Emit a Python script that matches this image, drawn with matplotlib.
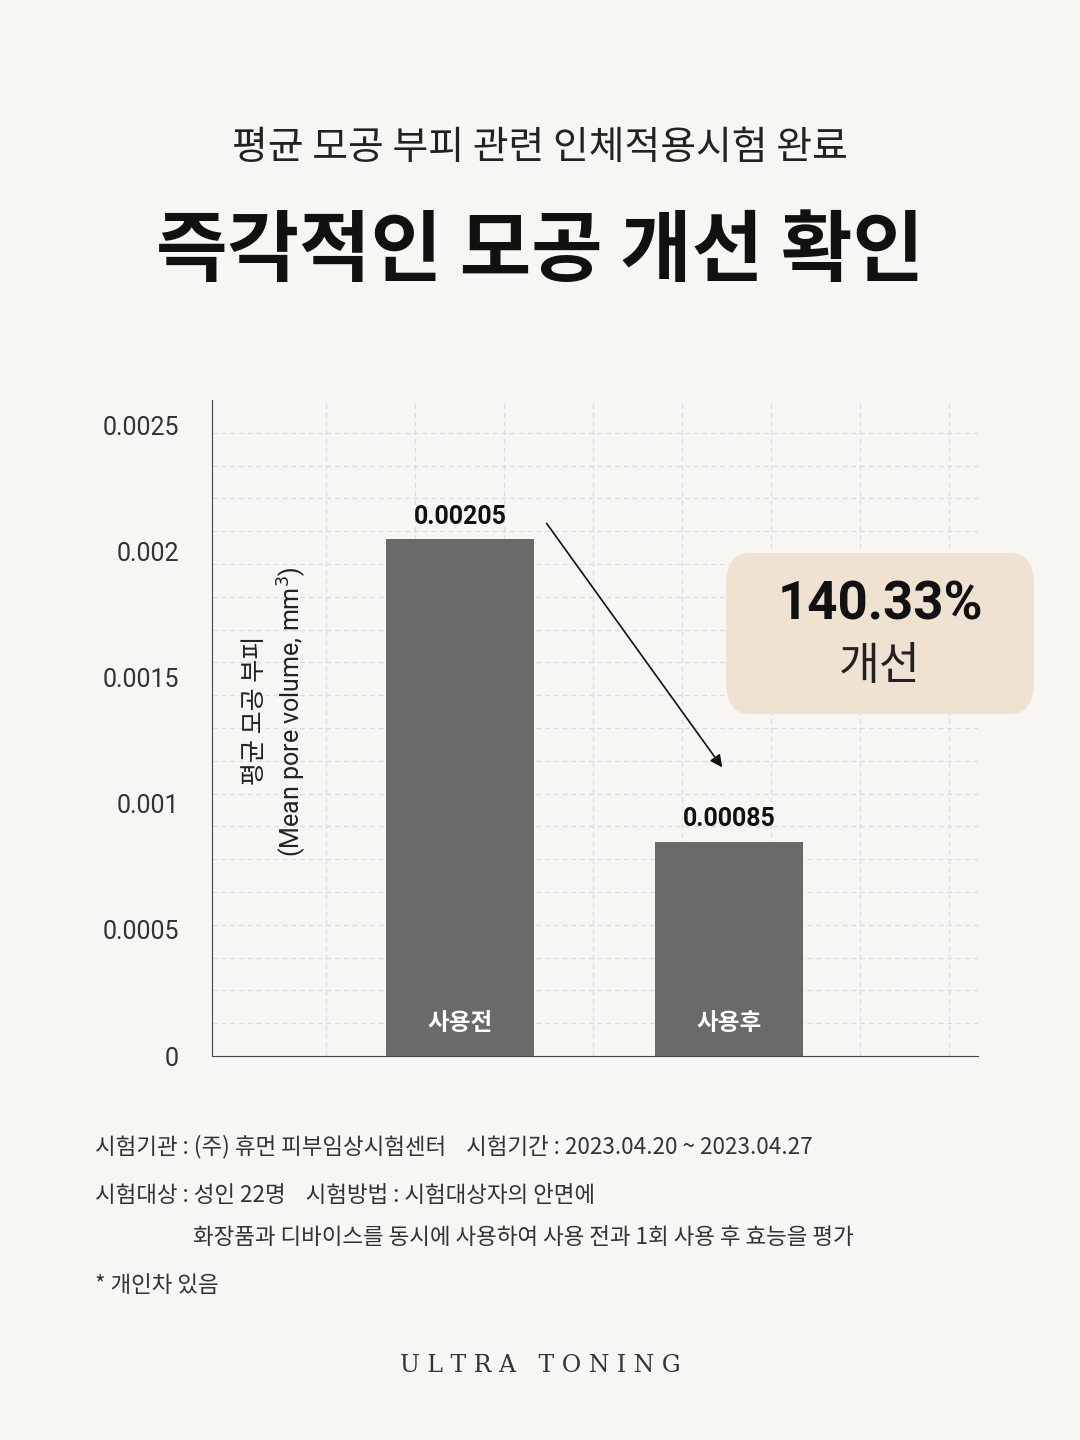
import numpy as np
import matplotlib
matplotlib.use("Agg")
import matplotlib.pyplot as plt
from matplotlib.patches import FancyBboxPatch

plt.rcParams['font.family'] = ['Noto Sans CJK KR', 'DejaVu Sans']

categories = ["사용전", "사용후"]
values = [0.00205, 0.00085]
value_labels = ["0.00205", "0.00085"]
yticks = [0, 0.0005, 0.001, 0.0015, 0.002, 0.0025]
ytick_labels = ["0", "0.0005", "0.001", "0.0015", "0.002", "0.0025"]

BG = "#f7f6f3"
BAR = "#6a6a6a"

fig = plt.figure(figsize=(10.8, 14.4), dpi=100, facecolor=BG)

fig.text(0.5, 1 - 148 / 1440, "평균 모공 부피 관련 인체적용시험 완료", ha="center", va="center",
         fontsize=28, color="#222222")
fig.text(0.5, 1 - 252 / 1440, "즉각적인 모공 개선 확인", ha="center", va="center",
         fontsize=56, fontweight="bold", color="#111111")

ax = fig.add_axes([212 / 1080, 1 - 1056 / 1440, 766 / 1080, 656 / 1440])
ax.set_facecolor(BG)
x = np.arange(1, len(values) + 1)
ax.bar(x, values, width=0.55, color=BAR, zorder=3)
ax.set_xlim(0.078, 2.926)
ax.set_ylim(0, 0.0026)

ax.set_yticks(yticks)
ax.set_yticklabels(ytick_labels, fontsize=18, color="#333333", family="Roboto")
ax.tick_params(axis="y", length=0, pad=24)
ax.set_xticks([])
ax.set_yticks(np.arange(0, 0.0026, 0.00013), minor=True)
ax.set_xticks(np.arange(0.502, 2.93, 0.331), minor=True)
ax.tick_params(which="minor", length=0)
ax.grid(which="minor", color="#dcdcdc", linestyle=(0, (4, 3)), linewidth=0.9, zorder=0)

for side in ["top", "right"]:
    ax.spines[side].set_visible(False)
ax.spines["left"].set_color("#444444")
ax.spines["bottom"].set_color("#444444")

for xi, v, lab, cat in zip(x, values, value_labels, categories):
    ax.text(xi, v + 0.00004, lab, ha="center", va="bottom", fontsize=18,
            fontweight="bold", color="#111111", family="Roboto", zorder=4)
    ax.text(xi, 0.00013, cat, ha="center", va="center", fontsize=17,
            fontweight="bold", color="white", zorder=4)

ax.annotate("", xy=(1.981, 0.001135), xytext=(1.316, 0.00212),
            arrowprops=dict(arrowstyle="-|>", color="#111111", lw=1.2, mutation_scale=18), zorder=5)

fig.text(255 / 1080, 1 - 710 / 1440, "평균 모공 부피", rotation=90, ha="center", va="center",
         fontsize=18, color="#222222")
fig.text(292 / 1080, 1 - 712 / 1440, "(Mean pore volume, mm$^3$)", rotation=90, ha="center", va="center",
         fontsize=18, color="#222222", family="Roboto")

box = FancyBboxPatch((726 / 1080, 1 - 714 / 1440), 308 / 1080, 161 / 1440,
                     boxstyle="round,pad=0,rounding_size=0.022", transform=fig.transFigure,
                     facecolor="#efe2d2", edgecolor="none")
fig.patches.append(box)
fig.text(880 / 1080, 1 - 605 / 1440, "140.33%", ha="center", va="center",
         fontsize=38, fontweight="bold", color="#111111", family="Roboto")
fig.text(880 / 1080, 1 - 666 / 1440, "개선", ha="center", va="center",
         fontsize=32, color="#222222")

foot = dict(ha="left", va="center", fontsize=16.2, color="#333333")
fig.text(95 / 1080, 1 - 1147 / 1440, "시험기관 : (주) 휴먼 피부임상시험센터    시험기간 : 2023.04.20 ~ 2023.04.27", **foot)
fig.text(95 / 1080, 1 - 1196 / 1440, "시험대상 : 성인 22명    시험방법 : 시험대상자의 안면에", **foot)
fig.text(193 / 1080, 1 - 1238 / 1440, "화장품과 디바이스를 동시에 사용하여 사용 전과 1회 사용 후 효능을 평가", **foot)
fig.text(95 / 1080, 1 - 1286 / 1440, "* 개인차 있음", **foot)

fig.text(0.5, 1 - 1366 / 1440, "U L T R A   T O N I N G", ha="center", va="center",
         fontsize=17, family="DejaVu Serif", color="#333333")

fig.savefig("out.png", dpi=100, facecolor=BG)
